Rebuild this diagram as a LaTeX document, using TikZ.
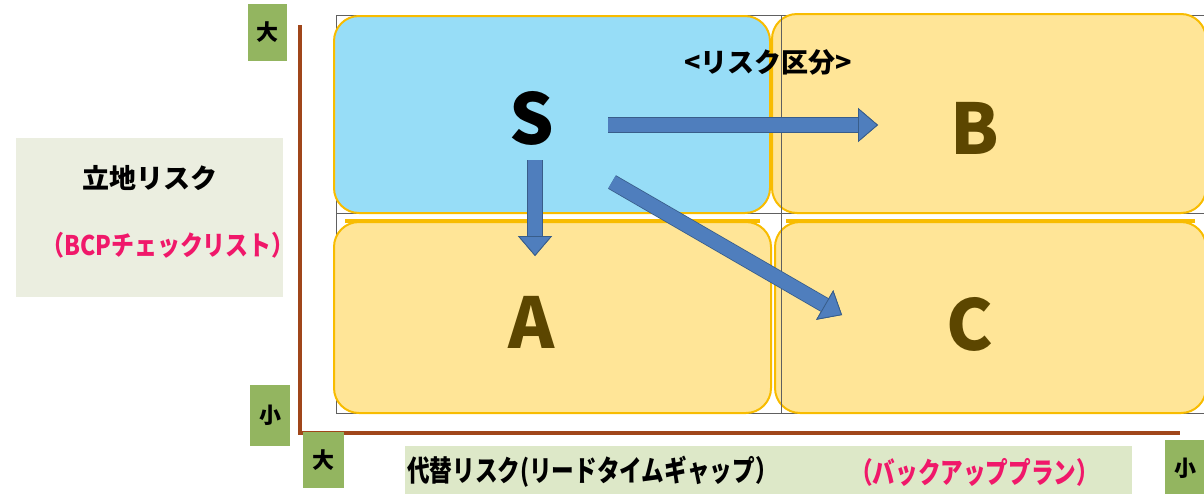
\documentclass[tikz,border=0pt]{standalone}
\usepackage{fontspec}
\setmainfont{Noto Sans CJK JP}
\usetikzlibrary{arrows.meta}
\definecolor{sblue}{HTML}{97DDF7}
\definecolor{qyellow}{HTML}{FFE597}
\definecolor{gold}{HTML}{F8BC00}
\definecolor{letterbrown}{HTML}{5C4600}
\definecolor{arrowblue}{HTML}{4F7EBD}
\definecolor{arrowedge}{HTML}{385D8A}
\definecolor{axisbrown}{HTML}{A0461A}
\definecolor{taggreen}{HTML}{93B560}
\definecolor{leftbg}{HTML}{EBEEE0}
\definecolor{bottombg}{HTML}{DDE8C8}
\definecolor{pinkred}{HTML}{F0186A}
\definecolor{gridgray}{HTML}{606060}
\begin{document}
\begin{tikzpicture}[x=1pt,y=-1pt,
  quad/.style={draw=gold, line width=2pt, rounded corners=25pt, inner sep=0pt},
  tag/.style={fill=taggreen, inner sep=0pt, font=\bfseries\fontsize{22}{22}\selectfont},
  bigletter/.style={font=\bfseries\fontsize{70}{70}\selectfont, inner sep=0pt},
  jpbold/.style={font=\bfseries\fontsize{27}{27}\selectfont, inner sep=0pt},
  blockarr/.style={line width=14pt, draw=arrowblue,
    -{Triangle[length=20pt,width=34pt,line width=0.8pt,fill=arrowblue,color=arrowedge]},
    preaction={draw=arrowedge, line width=15.6pt, -{Triangle[length=20pt,width=34pt,line width=0.8pt]}}},
  axis/.style={draw=axisbrown, line width=4pt}
]
\useasboundingbox (0,0) rectangle (1204,493);
% thin grid
\draw[gridgray, line width=1pt] (336,15) rectangle (1210,413);
\draw[gridgray, line width=1pt] (781,15) -- (781,413);
\draw[gridgray, line width=1pt] (336,213) -- (1210,213);
% quadrants
\node[quad, fill=sblue, minimum width=436pt, minimum height=197pt] (qS) at (552,114.5) {};
\node[quad, fill=qyellow, minimum width=437pt, minimum height=191pt] (qA) at (552.5,317.5) {};
\node[quad, fill=qyellow, minimum width=434pt, minimum height=199pt] (qB) at (989,113.5) {};
\node[quad, fill=qyellow, minimum width=431pt, minimum height=191pt] (qC) at (990.5,317.5) {};
\draw[gold, line width=4pt] (qA.north west) ++(12,0) -- ([xshift=-12pt]qA.north east);
\draw[gold, line width=4pt] (qC.north west) ++(12,0) -- ([xshift=-12pt]qC.north east);
\draw[gridgray, line width=0.8pt] (781,15) -- (781,413);
% letters
\node[bigletter, text=black] (S) at (532,118) {S};
\node[bigletter, text=letterbrown] (A) at (532,322) {A};
\node[bigletter, text=letterbrown] (B) at (975,128) {B};
\node[bigletter, text=letterbrown] (C) at (970,324) {C};
\node[jpbold] (title) at (768,62) {<リスク区分>};
% arrows
\coordinate (h1) at (608,125);
\coordinate (h2) at (878,125);
\coordinate (v1) at (535,160);
\coordinate (v2) at (535,256);
\coordinate (d1) at (612,182);
\coordinate (d2) at (842,315);
\draw[blockarr] (h1) -- (h2);
\draw[blockarr] (v1) -- (v2);
\draw[blockarr] (d1) -- (d2);
% axes
\coordinate (ytop) at (300,25);
\coordinate (origin) at (300,433);
\coordinate (xend) at (1180,433);
\draw[axis] (ytop) -- (origin) -- (xend);
% tags
\node[tag, minimum width=39pt, minimum height=57pt] (t1) at (267.5,32.5) {大};
\node[tag, minimum width=40pt, minimum height=61pt] (t2) at (270,415.5) {小};
\node[tag, minimum width=41pt, minimum height=56pt] (t3) at (323.5,460) {大};
\node[tag, minimum width=40pt, minimum height=56pt] (t4) at (1185,468) {小};
% left label
\node[fill=leftbg, minimum width=267pt, minimum height=159pt, inner sep=0pt] (lbox) at (149.5,217.5) {};
\node[jpbold] (lt1) at (150,178) {立地リスク};
\node[jpbold, text=pinkred, xscale=0.85] (lt2) at (168,245) {（BCPチェックリスト）};
% bottom label
\node[fill=bottombg, minimum width=727pt, minimum height=52pt, inner sep=0pt] (bbox) at (768.5,472) {};
\node[jpbold, anchor=west, xscale=0.78, font=\bfseries\fontsize{29}{29}\selectfont] (bt1) at (407,472) {代替リスク(リードタイムギャップ）};
\node[jpbold, anchor=west, text=pinkred, xscale=0.78, font=\bfseries\fontsize{29}{29}\selectfont] (bt2) at (850,472) {（バックアッププラン）};
\end{tikzpicture}
\end{document}
